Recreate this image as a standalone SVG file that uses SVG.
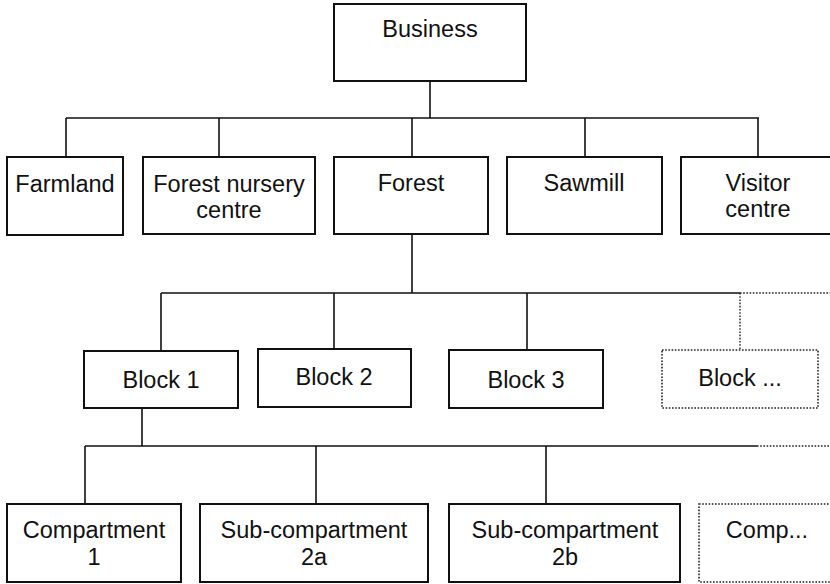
<svg xmlns="http://www.w3.org/2000/svg" width="830" height="584" viewBox="0 0 830 584">
<style>
.box{fill:#fff;stroke:#111;stroke-width:2}
.dbox{fill:#fff;stroke:#222;stroke-width:1.6;stroke-dasharray:1.6 1.6}
.ln{fill:none;stroke:#111;stroke-width:1.6}
.dl{fill:none;stroke:#222;stroke-width:1.4;stroke-dasharray:1.6 1.6}
text{font-family:"Liberation Sans",Arial,sans-serif;font-size:23.5px;fill:#111;text-anchor:middle}
</style>
<rect width="830" height="584" fill="#fff"/>
<g id="connectors">
<path class="ln" d="M430 81V118M66 118H759M66 118V157M219 118V157M412 118V157M585 118V157M758 118V157"/>
<path class="ln" d="M412 234V293M161 293H740M161 293V351M334 293V349M527 293V350"/>
<path class="dl" d="M740 293H830M740 293V350"/>
<path class="ln" d="M142 408V446M85 446H757M85 446V504M316 446V504M546 446V504"/>
<path class="dl" d="M757 446H830"/>
</g>
<g id="business"><rect class="box" x="334" y="4" width="192" height="77"/><text x="430" y="37">Business</text></g>
<g id="farmland"><rect class="box" x="7" y="157" width="116" height="78"/><text x="65" y="192">Farmland</text></g>
<g id="nursery"><rect class="box" x="143" y="157" width="172" height="77"/><text x="229" y="192">Forest nursery</text><text x="229" y="218">centre</text></g>
<g id="forest"><rect class="box" x="334" y="157" width="154" height="77"/><text x="411" y="191">Forest</text></g>
<g id="sawmill"><rect class="box" x="507" y="157" width="155" height="77"/><text x="584" y="191">Sawmill</text></g>
<g id="visitor"><rect class="box" x="681" y="157" width="155" height="77"/><text x="758" y="191">Visitor</text><text x="758" y="217">centre</text></g>
<g id="block1"><rect class="box" x="84" y="351" width="154" height="57"/><text x="161" y="388">Block 1</text></g>
<g id="block2"><rect class="box" x="258" y="349" width="153" height="58"/><text x="334" y="385">Block 2</text></g>
<g id="block3"><rect class="box" x="449" y="350" width="154" height="58"/><text x="526" y="388">Block 3</text></g>
<g id="blockmore"><rect class="dbox" x="662" y="350" width="156" height="58"/><text x="740" y="386">Block ...</text></g>
<g id="comp1"><rect class="box" x="7" y="504" width="174" height="78"/><text x="94" y="538">Compartment</text><text x="94" y="565">1</text></g>
<g id="sub2a"><rect class="box" x="200" y="504" width="228" height="78"/><text x="314" y="538">Sub-compartment</text><text x="314" y="565">2a</text></g>
<g id="sub2b"><rect class="box" x="449" y="504" width="231" height="78"/><text x="565" y="538">Sub-compartment</text><text x="565" y="565">2b</text></g>
<g id="compmore"><rect class="dbox" x="699" y="504" width="140" height="78"/><text x="767" y="538">Comp...</text></g>
</svg>
